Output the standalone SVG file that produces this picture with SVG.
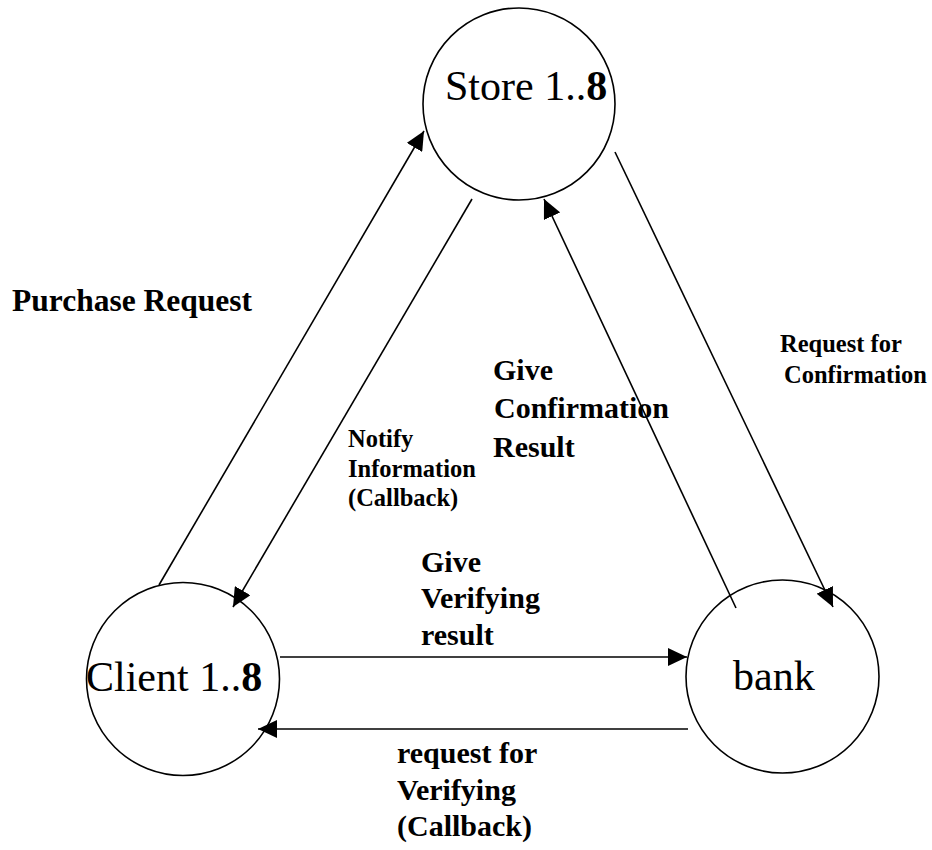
<svg xmlns="http://www.w3.org/2000/svg" width="932" height="850" viewBox="0 0 932 850">
  <style>
    .node circle { fill: none; stroke: #000; stroke-width: 1.6; }
    .node text { font-family: "Liberation Serif", "Times New Roman", serif; font-size: 42px; fill: #000; }
    .edge line { stroke: #000; stroke-width: 1.6; marker-end: url(#arrow); }
    .lbl { font-family: "Liberation Serif", "Times New Roman", serif; font-weight: bold; fill: #000; }
    .l31 { font-size: 31.5px; }
    .l30 { font-size: 30px; }
    .l24 { font-size: 24.5px; }
  </style>
  <defs>
    <marker id="arrow" markerUnits="userSpaceOnUse" markerWidth="20" markerHeight="18" refX="19" refY="9" orient="auto">
      <path d="M0,0 L19,9 L0,18 Z" fill="#000"/>
    </marker>
  </defs>
  <rect width="932" height="850" fill="#fff"/>

  <!-- connectors with their labels -->
  <g id="connectors">
    <g class="edge" id="purchase-request">
      <line x1="159" y1="585" x2="424" y2="131"/>
      <text class="lbl l31" x="12" y="311">Purchase Request</text>
    </g>
    <g class="edge" id="notify-information">
      <line x1="472" y1="199" x2="233" y2="607"/>
      <text class="lbl l24"><tspan x="348" y="447">Notify</tspan><tspan x="348" y="477">Information</tspan><tspan x="348" y="506">(Callback)</tspan></text>
    </g>
    <g class="edge" id="give-confirmation">
      <line x1="736" y1="608" x2="544" y2="199"/>
      <text class="lbl l30"><tspan x="493" y="380">Give</tspan><tspan x="494" y="418">Confirmation</tspan><tspan x="493" y="457">Result</tspan></text>
    </g>
    <g class="edge" id="request-confirmation">
      <line x1="615" y1="152" x2="833" y2="607"/>
      <text class="lbl l24"><tspan x="780" y="352">Request for</tspan><tspan x="784" y="383">Confirmation</tspan></text>
    </g>
    <g class="edge" id="give-verifying">
      <line x1="280" y1="657" x2="687" y2="657"/>
      <text class="lbl l30"><tspan x="421" y="572">Give</tspan><tspan x="421" y="608">Verifying</tspan><tspan x="421" y="645">result</tspan></text>
    </g>
    <g class="edge" id="request-verifying">
      <line x1="688" y1="729" x2="258" y2="729"/>
      <text class="lbl l30"><tspan x="397" y="763">request for</tspan><tspan x="397" y="800">Verifying</tspan><tspan x="397" y="836">(Callback)</tspan></text>
    </g>
  </g>

  <!-- nodes -->
  <g id="store" class="node">
    <circle cx="519" cy="104" r="96"/>
    <text x="445" y="100">Store 1..<tspan font-weight="bold">8</tspan></text>
  </g>
  <g id="client" class="node">
    <circle cx="183" cy="679" r="96.5"/>
    <text x="86" y="691">Client 1..<tspan font-weight="bold">8</tspan></text>
  </g>
  <g id="bank" class="node">
    <circle cx="782.5" cy="676.5" r="96.5"/>
    <text x="733" y="690">bank</text>
  </g>
</svg>
